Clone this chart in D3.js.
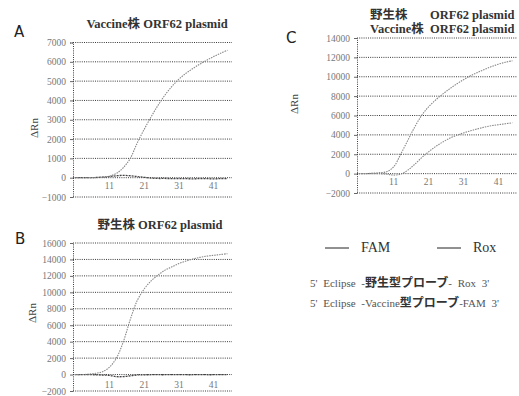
<!DOCTYPE html>
<html><head><meta charset="utf-8">
<script src="https://cdn.jsdelivr.net/npm/d3@7"></script>
<style>
body{margin:0;background:#fff;}
svg{display:block;}
svg text{font-family:"Liberation Serif","DejaVu Serif","Noto Sans CJK JP",serif;}
svg text.sans{font-family:"DejaVu Sans","Liberation Sans",sans-serif;}
</style></head>
<body>
<svg id="chart" width="519" height="396"></svg>
<script>
// ---- data ----
const cycles = [1,3,5,7,9,11,13,15,17,19,21,23,25,27,29,31,33,35,37,39,41,43,45];
const xTicks = [11,21,31,41];
// Panel A: Vaccine株 ORF62 plasmid
const aFAM = [0,0,0,10,30,80,220,520,1000,1800,2500,3150,3750,4280,4730,5100,5400,5650,5880,6080,6270,6440,6600];
const aRox = [0,0,0,10,30,60,100,120,100,60,20,-20,-40,-40,-50,-50,-50,-60,-50,-50,-60,-50,-50];
const aTicks = [-1000,0,1000,2000,3000,4000,5000,6000,7000];
// Panel B: 野生株 ORF62 plasmid
const bRox = [0,0,50,150,350,900,2000,4000,6700,9000,10400,11400,12100,12700,13100,13500,13800,14050,14250,14400,14500,14600,14700];
const bFAM = [0,0,0,-30,-60,-100,-250,-250,-150,-50,-30,-20,-20,-20,-10,-10,-20,-20,-10,-20,-20,-10,-20];
const bTicks = [-2000,0,2000,4000,6000,8000,10000,12000,14000,16000];
// Panel C: 野生株 + Vaccine株 ORF62 plasmid
const cRox = [0,0,50,100,200,700,2000,3400,4800,6000,6900,7600,8200,8750,9250,9700,10100,10450,10750,11050,11300,11500,11650];
const cFAM = [0,0,0,-20,-60,-150,-50,350,950,1650,2250,2800,3250,3650,3950,4200,4420,4620,4800,4950,5050,5150,5250];
const cTicks = [-2000,0,2000,4000,6000,8000,10000,12000,14000];
const legendLabels = ["FAM","Rox"];
// probe labels as [latin prefix, japanese part, latin suffix]
const probeLabels = [["5' Eclipse -","野生型プローブ","- Rox 3'"],["5' Eclipse -Vaccine","型プローブ","-FAM 3'"]];

const svg = d3.select("#chart");

function panel(opt){
  const g = svg.append("g");
  const x = d3.scaleLinear().domain([0.5,46.3]).range([opt.x0, opt.x1]);
  const y = d3.scaleLinear().domain([opt.ticks[0], opt.ticks[opt.ticks.length-1]]).range([opt.y1, opt.y0]);
  g.selectAll(".grid").data(opt.ticks).join("line")
    .attr("x1", opt.x0).attr("x2", opt.x1)
    .attr("y1", d=>y(d)).attr("y2", d=>y(d))
    .attr("stroke","#3a3a3a").attr("stroke-width",1).attr("stroke-dasharray","1,1.2");
  const ax = d3.axisLeft(y).tickValues(opt.ticks).tickSize(3).tickFormat(d3.format("d"));
  const ag = g.append("g").attr("transform",`translate(${opt.x0},0)`).call(ax);
  ag.attr("font-family",null);
  ag.select(".domain").attr("stroke","#3a3a3a").attr("stroke-dasharray","1,1.2");
  ag.selectAll(".tick line").attr("stroke","#666");
  ag.selectAll("text").attr("font-size",9.5).attr("fill","#777").attr("dx",-1);
  g.selectAll(".xt").data(xTicks).join("text")
    .attr("x", d=>x(d)).attr("y", opt.y1 - opt.xlabOff)
    .attr("text-anchor","middle").attr("font-size",9.5).attr("fill","#777")
    .text(d=>d);
  g.append("text").attr("transform",`translate(${opt.ylx},${opt.yly}) rotate(-90)`)
    .attr("text-anchor","middle").attr("font-size",11).attr("fill","#444")
    .text("ΔRn");
  const line = d3.line().x((d,i)=>x(cycles[i])).y(d=>y(d)).curve(d3.curveCatmullRom);
  opt.series.forEach(s=>{
    g.append("path").attr("d", line(s.values)).attr("fill","none")
      .attr("stroke", s.flat ? "#444" : "#888").attr("stroke-width", s.flat ? 1.3 : 1.1)
      .attr("stroke-dasharray", s.flat ? "2,1" : "1.5,1");
  });
  g.append("text").attr("class","sans").attr("x",opt.lx).attr("y",opt.ly)
    .attr("font-size",15).attr("fill","#222").text(opt.letter);
  return g;
}

panel({x0:73,x1:232,y0:42.5,y1:197,ticks:aTicks,xlabOff:8,ylx:38,yly:128,lx:14,ly:37,letter:"A",
  series:[{values:aRox,flat:true},{values:aFAM}]});
panel({x0:73,x1:232,y0:243,y1:391,ticks:bTicks,xlabOff:3,ylx:36,yly:313,lx:15,ly:244,letter:"B",
  series:[{values:bFAM,flat:true},{values:bRox}]});
panel({x0:357,x1:517,y0:38,y1:193,ticks:cTicks,xlabOff:8,ylx:298,yly:104,lx:286,ly:43,letter:"C",
  series:[{values:cFAM},{values:cRox}]});

function title(x,y,txt,anchor){
  svg.append("text").attr("x",x).attr("y",y).attr("text-anchor",anchor||"middle")
    .attr("font-weight","bold").attr("font-size",12.5).attr("fill","#333").text(txt);
}
title(157,28,"Vaccine株 ORF62 plasmid");
title(160,229,"野生株 ORF62 plasmid");
title(370,19,"野生株","start");
title(430,19,"ORF62 plasmid","start");
title(370,33,"Vaccine株","start");
title(430,33,"ORF62 plasmid","start");

const lg = svg.append("g");
const lx = [325, 437];
legendLabels.forEach((t,i)=>{
  lg.append("line").attr("x1",lx[i]).attr("x2",lx[i]+24).attr("y1",248).attr("y2",248)
    .attr("stroke","#222").attr("stroke-width",1);
  lg.append("text").attr("x",lx[i]+36).attr("y",252)
    .attr("font-size",14).attr("fill","#333").text(t);
});
probeLabels.forEach((parts,i)=>{
  const t = lg.append("text").attr("x",310).attr("y",287+i*20)
    .attr("font-size",11).attr("fill","#555").attr("word-spacing",3);
  t.append("tspan").text(parts[0]);
  t.append("tspan").attr("font-size",12).attr("font-weight","bold").attr("fill","#333").text(parts[1]);
  t.append("tspan").text(parts[2]);
});
</script>
</body></html>
